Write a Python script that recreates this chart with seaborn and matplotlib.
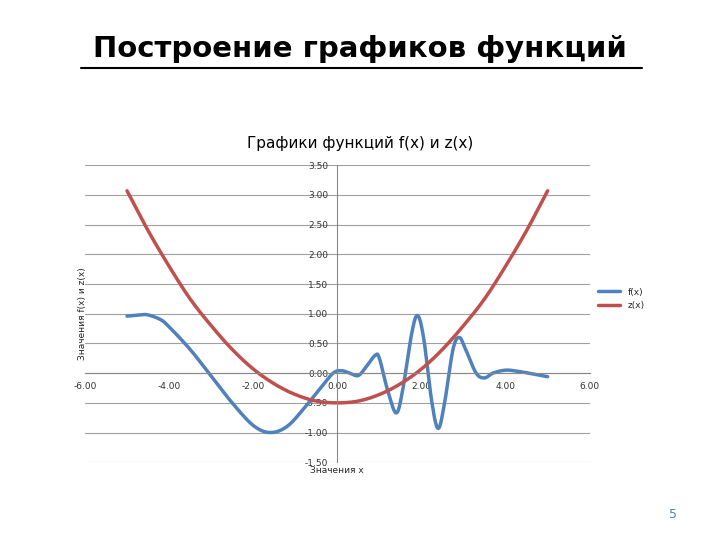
import numpy as np
import pandas as pd
import matplotlib
matplotlib.use("Agg")
import matplotlib.pyplot as plt
import seaborn as sns

f_x = [-5.0,-4.7,-4.5,-4.2,-4.0,-3.5,-3.0,-2.5,-2.0,-1.6,-1.2,-0.8,-0.4,-0.1,0.1,0.3,0.5,0.7,0.9,1.0,1.2,1.4,1.55,1.75,1.9,2.05,2.25,2.4,2.55,2.75,2.9,3.05,3.3,3.5,3.7,4.0,4.3,4.7,5.0]
f_y = [0.96,0.98,0.98,0.9,0.78,0.4,-0.05,-0.5,-0.88,-1.0,-0.9,-0.6,-0.25,0.0,0.04,0.0,-0.04,0.12,0.3,0.25,-0.3,-0.67,-0.3,0.6,0.97,0.6,-0.5,-0.93,-0.5,0.4,0.6,0.4,0.0,-0.08,0.0,0.05,0.03,-0.02,-0.06]
z_x = [-5,-4.5,-4,-3.5,-3,-2.5,-2,-1.5,-1,-0.5,0,0.5,1,1.5,2,2.5,3,3.5,4,4.5,5]
z_y = [3.07,2.4,1.8,1.25,0.8,0.4,0.07,-0.18,-0.36,-0.47,-0.5,-0.47,-0.36,-0.18,0.07,0.4,0.8,1.25,1.8,2.4,3.07]

def smooth(xs, ys, n=12):
    # Catmull-Rom smoothing like Excel's smoothed lines
    P = np.column_stack([xs, ys]).astype(float)
    P = np.vstack([P[0], P, P[-1]])
    out = []
    for i in range(1, len(P) - 2):
        p0, p1, p2, p3 = P[i-1], P[i], P[i+1], P[i+2]
        for t in np.linspace(0, 1, n, endpoint=False):
            t2, t3 = t*t, t*t*t
            out.append(0.5*((2*p1) + (-p0+p2)*t + (2*p0-5*p1+4*p2-p3)*t2 + (-p0+3*p1-3*p2+p3)*t3))
    out.append(P[-2])
    out = np.array(out)
    return out[:, 0], out[:, 1]

sns.set_style("white")
plt.rcParams['font.family'] = ['DejaVu Sans']
fig = plt.figure(figsize=(7.2, 5.4), dpi=100)
ax = fig.add_axes([0.118, 0.144, 0.701, 0.55])

fx, fy = smooth(f_x, f_y)
zx, zy = smooth(z_x, z_y)
df = pd.concat([pd.DataFrame({"x": fx, "y": fy, "s": "f(x)"}),
                pd.DataFrame({"x": zx, "y": zy, "s": "z(x)"})])
sns.lineplot(data=df, x="x", y="y", hue="s", estimator=None, sort=False,
             palette={"f(x)": "#4F81BD", "z(x)": "#C0504D"}, lw=2.5, ax=ax)

ax.set_xlim(-6, 6)
ax.set_ylim(-1.5, 3.5)
ax.set_yticks(np.arange(-1.5, 3.51, 0.5))
ax.set_xticks(np.arange(-6, 6.1, 2))
ax.yaxis.set_major_formatter(matplotlib.ticker.FormatStrFormatter('%.2f'))
ax.xaxis.set_major_formatter(matplotlib.ticker.FormatStrFormatter('%.2f'))
ax.tick_params(labelsize=6.5, colors="#333333", length=3)
ax.grid(axis='y', color="#A0A0A0", lw=0.8)
for s in ['top', 'right']:
    ax.spines[s].set_visible(False)
ax.spines['left'].set_position(('data', 0))
ax.spines['bottom'].set_position(('data', 0))
ax.spines['left'].set_color("#888888")
ax.spines['bottom'].set_color("#888888")
ax.set_xlabel("")
ax.set_ylabel("")
fig.text(0.114, 0.42, "Значения f(x) и z(x)", rotation=90, fontsize=6.5, ha='center', va='center')
fig.text(0.468, 0.128, "Значения x", fontsize=6.5, ha='center', va='center')
h, l = ax.get_legend_handles_labels()
ax.legend(h, l, loc='center left', bbox_to_anchor=(1.0, 0.55), frameon=False, fontsize=6.5, handlelength=2.5, title=None)
fig.text(0.5, 0.735, "Графики функций f(x) и z(x)", fontsize=11, ha='center', va='center', color='black')
fig.text(0.5, 0.91, "Построение графиков функций", fontsize=21, fontweight='bold', ha='center', va='center', color='black')
fig.add_artist(plt.Line2D([0.112, 0.892], [0.875, 0.875], color='black', lw=1.5))
fig.text(0.935, 0.047, "5", fontsize=9, color="#4F81BD", ha='center', va='center')
fig.savefig("out.png", dpi=100)
